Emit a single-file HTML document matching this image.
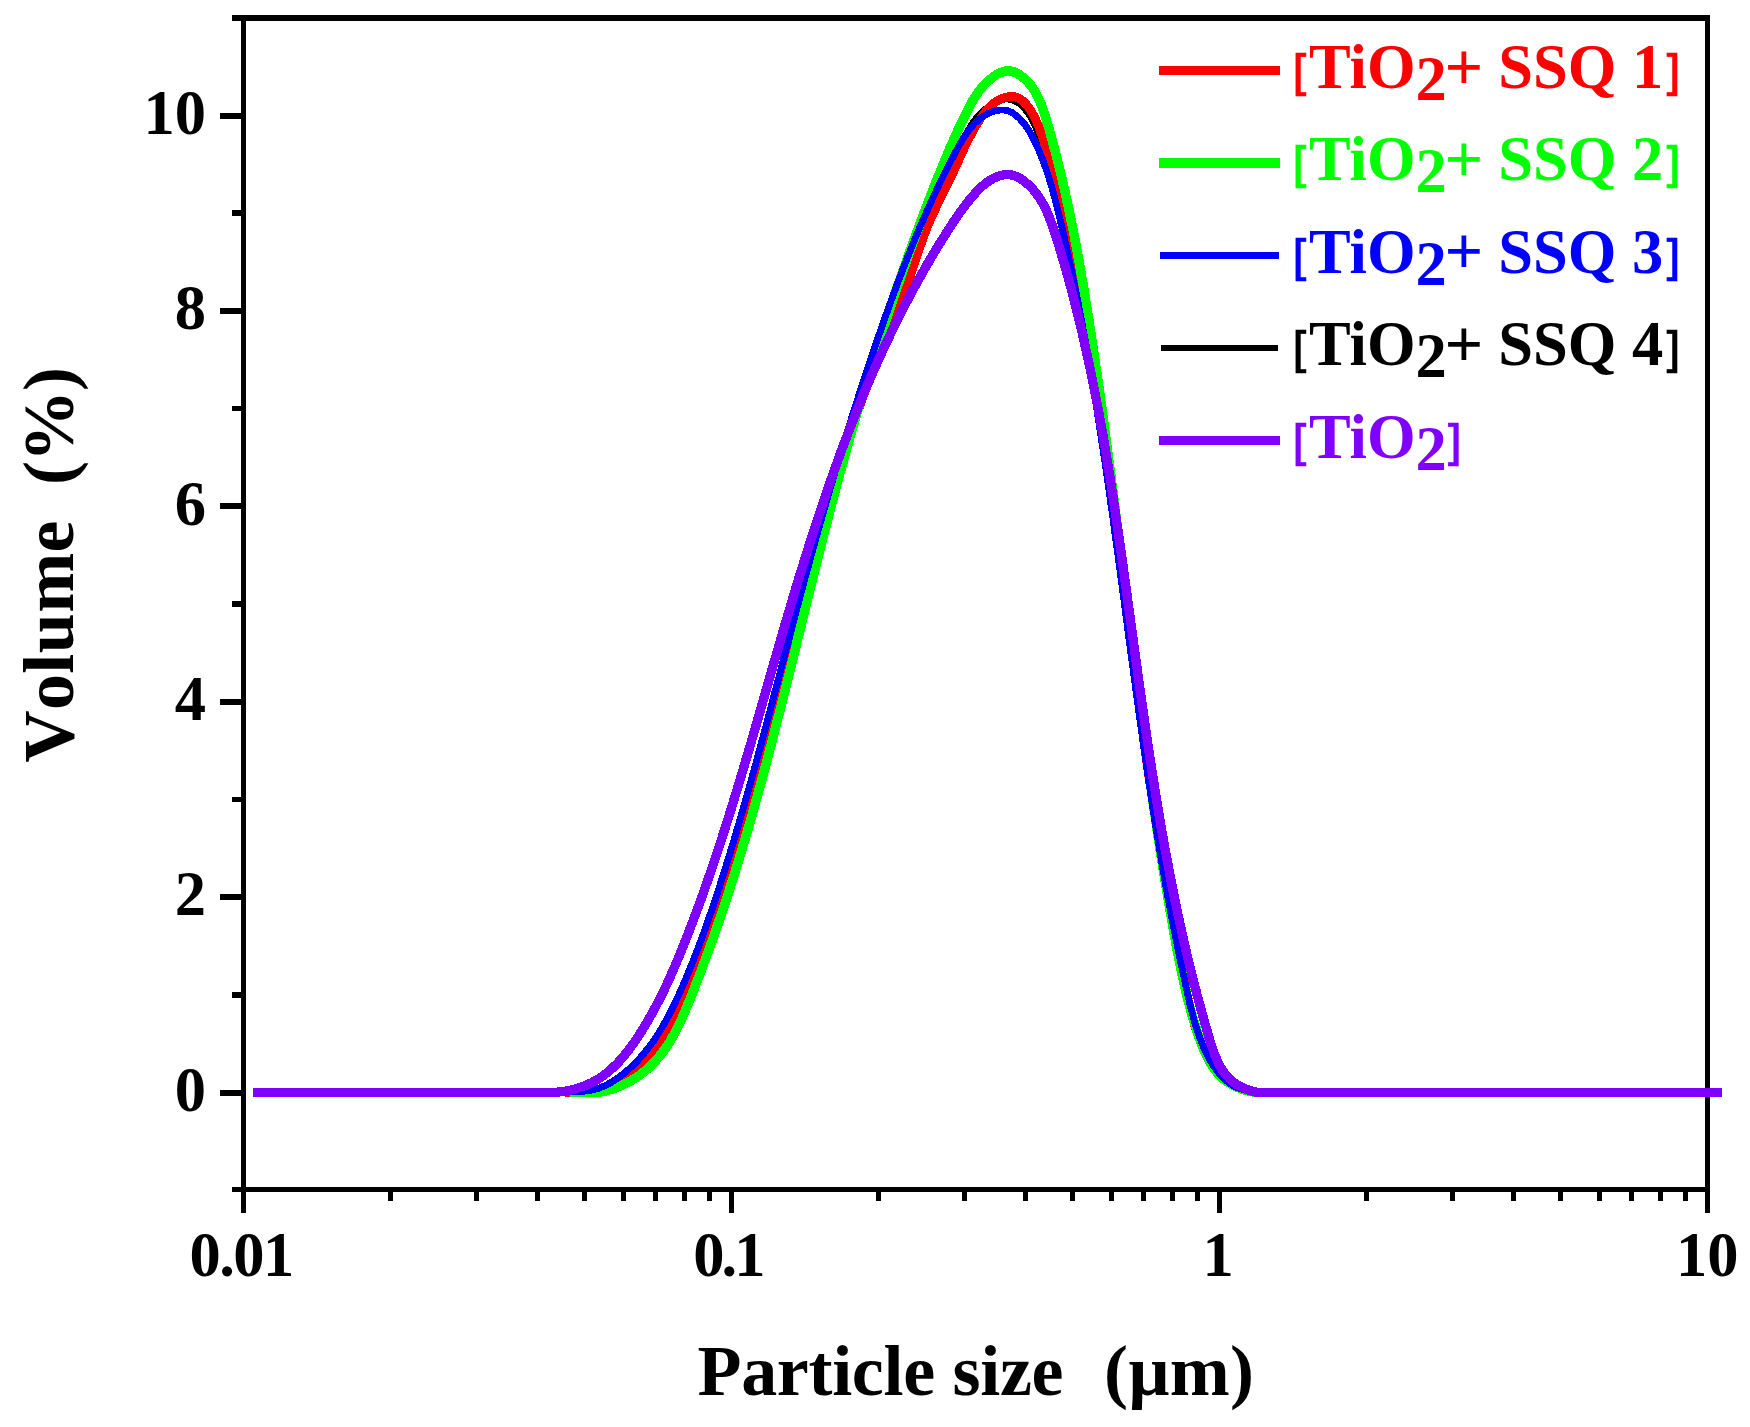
<!DOCTYPE html>
<html lang="en"><head><meta charset="utf-8"><title>Particle size distribution</title>
<style>html,body{margin:0;padding:0;background:#fff}svg{display:block}</style></head>
<body>
<svg width="1750" height="1427" viewBox="0 0 1750 1427">
<rect width="1750" height="1427" fill="#fff"/>
<g fill="#000" shape-rendering="crispEdges">
<rect x="232" y="15" width="1478" height="6"/>
<rect x="232" y="1187" width="1478" height="5"/>
<rect x="241" y="15" width="5" height="1198"/>
<rect x="1705" y="15" width="5" height="1198"/>
<rect x="220" y="1089.5" width="22" height="6"/>
<rect x="232" y="992.0" width="10" height="5.5"/>
<rect x="220" y="894.1" width="22" height="6"/>
<rect x="232" y="796.6" width="10" height="5.5"/>
<rect x="220" y="698.7" width="22" height="6"/>
<rect x="232" y="601.2" width="10" height="5.5"/>
<rect x="220" y="503.3" width="22" height="6"/>
<rect x="232" y="405.9" width="10" height="5.5"/>
<rect x="220" y="307.9" width="22" height="6"/>
<rect x="232" y="210.4" width="10" height="5.5"/>
<rect x="220" y="112.5" width="22" height="6"/>
<rect x="387.9" y="1190" width="5" height="11"/>
<rect x="473.8" y="1190" width="5" height="11"/>
<rect x="534.8" y="1190" width="5" height="11"/>
<rect x="582.1" y="1190" width="5" height="11"/>
<rect x="620.7" y="1190" width="5" height="11"/>
<rect x="653.4" y="1190" width="5" height="11"/>
<rect x="681.7" y="1190" width="5" height="11"/>
<rect x="706.7" y="1190" width="5" height="11"/>
<rect x="729.0" y="1190" width="5" height="23"/>
<rect x="875.9" y="1190" width="5" height="11"/>
<rect x="961.8" y="1190" width="5" height="11"/>
<rect x="1022.8" y="1190" width="5" height="11"/>
<rect x="1070.1" y="1190" width="5" height="11"/>
<rect x="1108.7" y="1190" width="5" height="11"/>
<rect x="1141.4" y="1190" width="5" height="11"/>
<rect x="1169.7" y="1190" width="5" height="11"/>
<rect x="1194.7" y="1190" width="5" height="11"/>
<rect x="1217.0" y="1190" width="5" height="23"/>
<rect x="1363.9" y="1190" width="5" height="11"/>
<rect x="1449.8" y="1190" width="5" height="11"/>
<rect x="1510.8" y="1190" width="5" height="11"/>
<rect x="1558.1" y="1190" width="5" height="11"/>
<rect x="1596.7" y="1190" width="5" height="11"/>
<rect x="1629.4" y="1190" width="5" height="11"/>
<rect x="1657.7" y="1190" width="5" height="11"/>
<rect x="1682.7" y="1190" width="5" height="11"/>
</g>
<g fill="none" stroke-linejoin="round" stroke-linecap="butt" shape-rendering="crispEdges">
<path stroke="#000000" stroke-width="6" d="M560.0 1092.7L564.4 1092.5L568.8 1092.3L573.2 1092.2L577.7 1092.1L582.1 1091.9L586.5 1091.5L590.9 1091.0L595.2 1090.2L599.5 1089.1L603.6 1087.7L607.7 1086.0L611.7 1084.1L615.7 1082.0L619.5 1079.7L623.2 1077.2L626.8 1074.5L630.2 1071.7L633.6 1068.9L636.8 1065.9L639.9 1062.8L642.8 1059.6L645.7 1056.3L648.5 1052.9L651.2 1049.5L653.7 1046.0L656.2 1042.4L658.7 1038.7L661.0 1035.0L663.2 1031.2L665.4 1027.3L667.6 1023.4L669.6 1019.5L671.6 1015.5L673.6 1011.5L675.5 1007.5L677.4 1003.4L679.2 999.3L681.0 995.2L682.8 991.1L684.5 987.0L686.2 982.8L687.9 978.7L689.6 974.6L691.3 970.5L693.0 966.4L694.7 962.3L696.3 958.2L698.0 954.0L699.6 949.9L701.2 945.8L702.8 941.7L704.4 937.6L705.9 933.4L707.4 929.3L709.0 925.2L710.5 921.0L712.0 916.8L713.4 912.7L714.9 908.5L716.3 904.4L717.8 900.2L719.2 896.0L720.6 891.8L722.0 887.6L723.4 883.5L724.7 879.3L726.1 875.1L727.4 870.9L728.7 866.7L730.0 862.4L731.3 858.2L732.6 854.0L733.9 849.8L735.2 845.6L736.4 841.3L737.7 837.1L738.9 832.9L740.2 828.6L741.4 824.4L742.6 820.2L743.8 815.9L745.0 811.7L746.2 807.4L747.4 803.2L748.5 798.9L749.7 794.7L750.9 790.4L752.0 786.1L753.2 781.9L754.3 777.6L755.4 773.3L756.6 769.1L757.7 764.8L758.8 760.5L759.9 756.2L761.0 752.0L762.1 747.7L763.2 743.4L764.3 739.1L765.4 734.9L766.5 730.6L767.6 726.3L768.7 722.0L769.8 717.7L770.9 713.4L772.0 709.2L773.1 704.9L774.1 700.6L775.2 696.3L776.3 692.0L777.4 687.7L778.5 683.4L779.6 679.2L780.6 674.9L781.7 670.6L782.8 666.3L783.9 662.0L785.0 657.7L786.1 653.4L787.2 649.2L788.3 644.9L789.4 640.6L790.5 636.3L791.6 632.1L792.7 627.8L793.9 623.5L795.0 619.2L796.1 615.0L797.3 610.7L798.4 606.4L799.5 602.1L800.7 597.9L801.9 593.6L803.0 589.3L804.2 585.1L805.3 580.8L806.5 576.6L807.7 572.3L808.9 568.0L810.1 563.8L811.3 559.5L812.5 555.3L813.7 551.0L814.9 546.8L816.1 542.5L817.3 538.3L818.5 534.0L819.7 529.8L821.0 525.6L822.2 521.3L823.4 517.1L824.7 512.8L825.9 508.6L827.2 504.4L828.4 500.1L829.7 495.9L831.0 491.7L832.2 487.4L833.5 483.2L834.8 479.0L836.1 474.8L837.4 470.5L838.7 466.3L840.0 462.1L841.3 457.9L842.6 453.6L843.9 449.4L845.2 445.2L846.5 441.0L847.9 436.8L849.2 432.6L850.5 428.4L851.9 424.2L853.2 420.0L854.6 415.7L855.9 411.5L857.3 407.3L858.6 403.1L860.0 398.9L861.4 394.7L862.8 390.5L864.1 386.3L865.5 382.2L866.9 378.0L868.3 373.8L869.7 369.6L871.1 365.4L872.5 361.2L874.0 357.0L875.4 352.9L876.8 348.7L878.2 344.5L879.7 340.3L881.1 336.2L882.6 332.0L884.1 327.8L885.5 323.7L887.0 319.5L888.5 315.3L890.0 311.2L891.5 307.0L893.0 302.9L894.5 298.7L896.0 294.6L897.6 290.5L899.1 286.3L900.7 282.2L902.2 278.1L903.8 274.0L905.4 269.8L907.0 265.7L908.6 261.6L910.2 257.5L911.8 253.4L913.5 249.3L915.1 245.2L916.8 241.1L918.4 237.0L920.1 233.0L921.8 228.9L923.5 224.8L925.2 220.8L926.9 216.7L928.6 212.6L930.4 208.6L932.2 204.5L933.9 200.5L935.7 196.5L937.5 192.5L939.3 188.4L941.2 184.4L943.0 180.4L944.8 176.4L946.7 172.4L948.6 168.4L950.5 164.4L952.4 160.5L954.3 156.5L956.3 152.5L958.2 148.6L960.2 144.6L962.2 140.7L964.2 136.8L966.3 132.9L968.5 129.1L970.8 125.3L973.2 121.7L975.9 118.2L978.7 114.8L981.9 111.7L985.3 108.7L989.0 105.9L992.9 103.5L997.0 101.5L1001.2 100.1L1005.4 99.4L1009.6 99.6L1013.5 100.7L1017.3 102.6L1020.8 105.2L1024.0 108.4L1026.9 111.9L1029.5 115.6L1031.7 119.5L1033.6 123.5L1035.4 127.6L1036.9 131.9L1038.4 136.1L1039.8 140.4L1041.2 144.7L1042.5 148.9L1043.8 153.2L1045.2 157.4L1046.4 161.6L1047.7 165.9L1049.0 170.1L1050.2 174.3L1051.4 178.6L1052.6 182.8L1053.8 187.0L1055.0 191.3L1056.1 195.5L1057.3 199.8L1058.4 204.0L1059.5 208.3L1060.6 212.5L1061.7 216.8L1062.8 221.0L1063.8 225.3L1064.9 229.6L1065.9 233.8L1066.9 238.1L1067.9 242.4L1068.9 246.7L1069.9 251.0L1070.8 255.3L1071.8 259.6L1072.7 263.8L1073.7 268.1L1074.6 272.5L1075.5 276.8L1076.4 281.1L1077.3 285.4L1078.1 289.7L1079.0 294.0L1079.8 298.3L1080.7 302.6L1081.5 307.0L1082.3 311.3L1083.1 315.6L1084.0 320.0L1084.7 324.3L1085.5 328.6L1086.3 333.0L1087.1 337.3L1087.8 341.7L1088.6 346.0L1089.3 350.3L1090.0 354.7L1090.8 359.1L1091.5 363.4L1092.2 367.8L1092.9 372.1L1093.6 376.5L1094.3 380.8L1095.0 385.2L1095.7 389.6L1096.3 393.9L1097.0 398.3L1097.6 402.7L1098.3 407.0L1098.9 411.4L1099.6 415.8L1100.2 420.2L1100.9 424.5L1101.5 428.9L1102.1 433.3L1102.7 437.7L1103.3 442.1L1104.0 446.5L1104.6 450.8L1105.2 455.2L1105.8 459.6L1106.4 464.0L1107.0 468.4L1107.5 472.8L1108.1 477.2L1108.7 481.5L1109.3 485.9L1109.9 490.3L1110.5 494.7L1111.0 499.1L1111.6 503.5L1112.2 507.9L1112.8 512.3L1113.3 516.7L1113.9 521.1L1114.5 525.5L1115.1 529.9L1115.6 534.3L1116.2 538.7L1116.8 543.0L1117.4 547.4L1117.9 551.8L1118.5 556.2L1119.1 560.6L1119.7 565.0L1120.2 569.4L1120.8 573.8L1121.4 578.2L1122.0 582.6L1122.6 587.0L1123.2 591.4L1123.8 595.8L1124.4 600.1L1124.9 604.5L1125.5 608.9L1126.1 613.3L1126.7 617.7L1127.3 622.1L1127.9 626.5L1128.5 630.9L1129.1 635.2L1129.7 639.6L1130.4 644.0L1131.0 648.4L1131.6 652.8L1132.2 657.2L1132.8 661.6L1133.4 665.9L1134.0 670.3L1134.6 674.7L1135.3 679.1L1135.9 683.5L1136.5 687.8L1137.1 692.2L1137.7 696.6L1138.4 701.0L1139.0 705.3L1139.6 709.7L1140.2 714.1L1140.9 718.5L1141.5 722.8L1142.1 727.2L1142.8 731.6L1143.4 736.0L1144.0 740.3L1144.7 744.7L1145.3 749.1L1145.9 753.4L1146.6 757.8L1147.2 762.2L1147.8 766.5L1148.5 770.9L1149.1 775.3L1149.8 779.6L1150.4 784.0L1151.0 788.4L1151.7 792.7L1152.3 797.1L1153.0 801.4L1153.6 805.8L1154.3 810.2L1154.9 814.5L1155.6 818.9L1156.2 823.2L1156.9 827.6L1157.5 831.9L1158.2 836.3L1158.8 840.6L1159.5 845.0L1160.1 849.3L1160.8 853.7L1161.4 858.0L1162.1 862.4L1162.7 866.7L1163.4 871.1L1164.0 875.4L1164.7 879.8L1165.3 884.1L1166.0 888.4L1166.6 892.8L1167.3 897.1L1168.0 901.4L1168.6 905.8L1169.3 910.1L1170.0 914.4L1170.7 918.8L1171.4 923.1L1172.1 927.4L1172.9 931.8L1173.6 936.1L1174.4 940.4L1175.2 944.7L1176.0 949.1L1176.9 953.4L1177.7 957.7L1178.6 962.0L1179.5 966.3L1180.5 970.6L1181.5 974.9L1182.5 979.2L1183.5 983.5L1184.6 987.8L1185.7 992.1L1186.8 996.4L1188.0 1000.7L1189.2 1005.0L1190.5 1009.3L1191.8 1013.6L1193.1 1017.9L1194.5 1022.2L1196.0 1026.4L1197.4 1030.7L1199.0 1035.0L1200.6 1039.2L1202.2 1043.5L1204.0 1047.7L1205.8 1051.9L1207.7 1055.9L1209.8 1059.9L1211.9 1063.7L1214.3 1067.4L1216.8 1070.9L1219.5 1074.2L1222.4 1077.3L1225.5 1080.1L1228.9 1082.7L1232.5 1085.0L1236.3 1087.0L1240.5 1088.6L1244.8 1090.0L1249.4 1091.0L1254.0 1091.8L1258.6 1092.4L1263.2 1092.7L1267.7 1092.7L1272.0 1092.7L1276.0 1092.7"/>
<path stroke="#ff0000" stroke-width="8.8" d="M565.0 1092.7L569.4 1092.5L573.9 1092.4L578.3 1092.3L582.7 1092.2L587.1 1092.0L591.5 1091.6L595.9 1091.0L600.2 1090.1L604.4 1089.0L608.6 1087.5L612.7 1085.8L616.7 1083.8L620.7 1081.6L624.5 1079.2L628.2 1076.7L631.8 1074.0L635.2 1071.2L638.5 1068.3L641.7 1065.3L644.8 1062.2L647.7 1059.0L650.6 1055.7L653.3 1052.3L656.0 1048.9L658.5 1045.3L661.0 1041.7L663.4 1038.0L665.7 1034.3L667.9 1030.4L670.0 1026.6L672.1 1022.7L674.1 1018.7L676.1 1014.7L678.0 1010.6L679.8 1006.6L681.7 1002.5L683.4 998.3L685.2 994.2L686.9 990.0L688.6 985.9L690.2 981.7L691.9 977.5L693.5 973.4L695.1 969.2L696.8 965.0L698.3 960.9L699.9 956.7L701.5 952.5L703.0 948.3L704.6 944.2L706.1 940.0L707.6 935.8L709.1 931.7L710.6 927.5L712.1 923.3L713.5 919.1L715.0 915.0L716.4 910.8L717.9 906.6L719.3 902.4L720.7 898.2L722.1 894.1L723.4 889.9L724.8 885.7L726.2 881.5L727.5 877.3L728.9 873.1L730.2 868.9L731.5 864.7L732.8 860.5L734.1 856.3L735.4 852.0L736.7 847.8L738.0 843.6L739.2 839.4L740.5 835.1L741.7 830.9L743.0 826.7L744.2 822.4L745.4 818.2L746.6 813.9L747.8 809.7L749.0 805.4L750.2 801.2L751.4 796.9L752.6 792.7L753.8 788.4L755.0 784.2L756.1 779.9L757.3 775.6L758.4 771.4L759.6 767.1L760.7 762.8L761.9 758.6L763.0 754.3L764.1 750.0L765.2 745.7L766.4 741.5L767.5 737.2L768.6 732.9L769.7 728.6L770.8 724.3L771.9 720.0L773.0 715.8L774.1 711.5L775.2 707.2L776.3 702.9L777.4 698.6L778.5 694.3L779.6 690.0L780.7 685.7L781.7 681.4L782.8 677.2L783.9 672.9L785.0 668.6L786.1 664.3L787.2 660.0L788.3 655.7L789.3 651.4L790.4 647.1L791.5 642.8L792.6 638.5L793.7 634.2L794.8 629.9L795.9 625.7L797.0 621.4L798.1 617.1L799.2 612.8L800.3 608.5L801.4 604.2L802.5 599.9L803.6 595.6L804.7 591.3L805.8 587.1L806.9 582.8L808.1 578.5L809.2 574.2L810.3 569.9L811.5 565.7L812.6 561.4L813.8 557.1L814.9 552.8L816.1 548.6L817.2 544.3L818.4 540.0L819.6 535.8L820.8 531.5L822.0 527.2L823.1 523.0L824.3 518.7L825.6 514.5L826.8 510.2L828.0 506.0L829.2 501.7L830.5 497.5L831.7 493.2L833.0 489.0L834.2 484.8L835.5 480.5L836.8 476.3L838.1 472.1L839.4 467.8L840.7 463.6L842.0 459.4L843.3 455.2L844.7 451.0L846.0 446.8L847.4 442.6L848.8 438.4L850.2 434.2L851.5 430.0L853.0 425.8L854.4 421.6L855.8 417.4L857.2 413.2L858.7 409.0L860.2 404.9L861.6 400.7L863.1 396.5L864.6 392.4L866.2 388.2L867.7 384.1L869.2 379.9L870.8 375.8L872.4 371.7L874.0 367.5L875.6 363.4L877.2 359.3L878.8 355.2L880.5 351.0L882.1 346.9L883.8 342.8L885.5 338.7L887.2 334.7L888.9 330.6L890.6 326.5L892.3 322.4L894.0 318.3L895.7 314.2L897.4 310.1L899.1 306.0L900.7 301.9L902.3 297.8L903.9 293.7L905.5 289.6L907.0 285.5L908.5 281.3L909.9 277.2L911.3 273.1L912.7 268.9L914.1 264.7L915.5 260.6L916.8 256.4L918.2 252.3L919.6 248.1L921.1 243.9L922.5 239.8L924.1 235.6L925.6 231.5L927.2 227.3L928.9 223.2L930.7 219.1L932.6 215.0L934.5 210.9L936.4 206.8L938.4 202.7L940.4 198.7L942.4 194.6L944.4 190.6L946.4 186.6L948.3 182.7L950.2 178.7L952.1 174.8L953.9 170.9L955.7 167.0L957.4 163.1L959.2 159.2L960.9 155.4L962.7 151.5L964.5 147.7L966.4 143.8L968.3 139.9L970.3 136.1L972.4 132.2L974.5 128.3L976.8 124.4L979.2 120.5L981.8 116.6L984.5 112.9L987.4 109.3L990.6 106.0L994.0 103.1L997.7 100.6L1001.6 98.6L1005.8 97.2L1010.0 96.5L1014.2 96.7L1018.1 97.8L1021.7 99.9L1025.0 102.9L1028.0 106.4L1030.6 110.2L1032.9 114.2L1035.1 118.2L1036.9 122.4L1038.7 126.5L1040.2 130.8L1041.7 135.0L1043.1 139.2L1044.4 143.4L1045.7 147.6L1047.0 151.8L1048.2 156.0L1049.4 160.2L1050.6 164.4L1051.8 168.6L1052.9 172.8L1054.1 177.0L1055.2 181.2L1056.3 185.4L1057.4 189.6L1058.5 193.9L1059.6 198.1L1060.7 202.4L1061.7 206.6L1062.8 210.9L1063.8 215.1L1064.8 219.4L1065.8 223.7L1066.8 227.9L1067.8 232.2L1068.8 236.5L1069.8 240.8L1070.7 245.1L1071.7 249.4L1072.6 253.6L1073.5 258.0L1074.4 262.3L1075.3 266.6L1076.2 270.9L1077.1 275.2L1077.9 279.5L1078.8 283.8L1079.6 288.2L1080.5 292.5L1081.3 296.8L1082.1 301.2L1083.0 305.5L1083.8 309.9L1084.5 314.2L1085.3 318.6L1086.1 322.9L1086.9 327.3L1087.6 331.6L1088.4 336.0L1089.1 340.4L1089.9 344.7L1090.6 349.1L1091.3 353.5L1092.1 357.8L1092.8 362.2L1093.5 366.6L1094.2 371.0L1094.9 375.3L1095.5 379.7L1096.2 384.1L1096.9 388.5L1097.6 392.9L1098.2 397.3L1098.9 401.7L1099.5 406.0L1100.2 410.4L1100.8 414.8L1101.5 419.2L1102.1 423.6L1102.7 428.0L1103.3 432.4L1104.0 436.8L1104.6 441.2L1105.2 445.6L1105.8 450.0L1106.4 454.4L1107.0 458.8L1107.6 463.2L1108.2 467.6L1108.8 472.0L1109.4 476.4L1110.0 480.8L1110.6 485.2L1111.1 489.6L1111.7 494.0L1112.3 498.4L1112.9 502.8L1113.5 507.2L1114.0 511.6L1114.6 516.0L1115.2 520.4L1115.7 524.8L1116.3 529.2L1116.9 533.6L1117.4 537.9L1118.0 542.3L1118.6 546.7L1119.1 551.1L1119.7 555.5L1120.2 559.9L1120.8 564.3L1121.4 568.7L1121.9 573.1L1122.5 577.5L1123.0 581.9L1123.6 586.3L1124.2 590.6L1124.7 595.0L1125.3 599.4L1125.8 603.8L1126.4 608.2L1126.9 612.6L1127.5 617.0L1128.1 621.4L1128.6 625.7L1129.2 630.1L1129.7 634.5L1130.3 638.9L1130.9 643.3L1131.4 647.7L1132.0 652.0L1132.6 656.4L1133.1 660.8L1133.7 665.2L1134.3 669.6L1134.8 674.0L1135.4 678.3L1136.0 682.7L1136.6 687.1L1137.2 691.5L1137.7 695.9L1138.3 700.2L1138.9 704.6L1139.5 709.0L1140.1 713.4L1140.7 717.7L1141.3 722.1L1141.9 726.5L1142.5 730.9L1143.1 735.2L1143.7 739.6L1144.3 744.0L1144.9 748.4L1145.5 752.7L1146.1 757.1L1146.7 761.5L1147.4 765.9L1148.0 770.2L1148.6 774.6L1149.3 779.0L1149.9 783.3L1150.6 787.7L1151.2 792.1L1151.9 796.4L1152.5 800.8L1153.2 805.2L1153.8 809.6L1154.5 813.9L1155.2 818.3L1155.8 822.6L1156.5 827.0L1157.2 831.4L1157.9 835.7L1158.6 840.1L1159.3 844.5L1160.0 848.8L1160.7 853.2L1161.4 857.6L1162.2 861.9L1162.9 866.3L1163.6 870.6L1164.4 875.0L1165.1 879.4L1165.9 883.7L1166.6 888.1L1167.4 892.4L1168.1 896.8L1168.9 901.1L1169.7 905.5L1170.5 909.9L1171.3 914.2L1172.1 918.6L1172.9 922.9L1173.7 927.3L1174.5 931.6L1175.4 936.0L1176.2 940.3L1177.0 944.7L1177.9 949.0L1178.7 953.4L1179.6 957.7L1180.5 962.1L1181.3 966.4L1182.2 970.8L1183.1 975.1L1184.0 979.5L1184.9 983.8L1185.8 988.2L1186.8 992.5L1187.7 996.9L1188.6 1001.2L1189.6 1005.5L1190.6 1009.9L1191.7 1014.2L1192.8 1018.5L1194.0 1022.7L1195.2 1027.0L1196.6 1031.2L1198.0 1035.4L1199.5 1039.5L1201.2 1043.6L1202.9 1047.6L1204.8 1051.6L1206.8 1055.6L1209.0 1059.5L1211.4 1063.3L1213.9 1067.0L1216.6 1070.6L1219.4 1074.0L1222.5 1077.2L1225.7 1080.2L1229.2 1082.9L1232.8 1085.2L1236.7 1087.3L1240.7 1088.9L1245.0 1090.2L1249.4 1091.1L1253.9 1091.8L1258.4 1092.2L1262.9 1092.5L1267.4 1092.6L1271.8 1092.7L1276.0 1092.7"/>
<path stroke="#00ff00" stroke-width="9.5" d="M570.0 1092.7L574.5 1092.7L579.0 1092.7L583.5 1092.7L588.1 1092.7L592.6 1092.7L597.1 1092.7L601.6 1091.8L606.0 1090.8L610.4 1089.6L614.8 1088.1L619.0 1086.5L623.2 1084.6L627.3 1082.6L631.3 1080.5L635.2 1078.1L639.0 1075.6L642.6 1072.9L646.1 1070.1L649.4 1067.2L652.6 1064.1L655.6 1060.9L658.5 1057.5L661.3 1054.1L663.9 1050.5L666.5 1046.9L668.9 1043.2L671.2 1039.4L673.4 1035.5L675.5 1031.5L677.6 1027.5L679.5 1023.4L681.5 1019.3L683.3 1015.1L685.1 1010.9L686.9 1006.7L688.6 1002.5L690.4 998.2L692.1 994.0L693.8 989.7L695.4 985.5L697.1 981.2L698.7 976.9L700.4 972.7L702.0 968.4L703.6 964.1L705.2 959.8L706.8 955.6L708.3 951.3L709.9 947.0L711.4 942.7L713.0 938.4L714.5 934.1L716.0 929.8L717.5 925.5L718.9 921.3L720.4 917.0L721.9 912.6L723.3 908.3L724.7 904.0L726.2 899.7L727.6 895.4L729.0 891.1L730.4 886.8L731.7 882.5L733.1 878.2L734.5 873.8L735.8 869.5L737.2 865.2L738.5 860.9L739.8 856.5L741.1 852.2L742.4 847.9L743.7 843.5L745.0 839.2L746.3 834.8L747.6 830.5L748.8 826.2L750.1 821.8L751.3 817.5L752.6 813.1L753.8 808.8L755.0 804.4L756.2 800.1L757.4 795.7L758.6 791.4L759.8 787.0L761.0 782.7L762.2 778.3L763.4 773.9L764.6 769.6L765.7 765.2L766.9 760.9L768.0 756.5L769.2 752.1L770.3 747.8L771.5 743.4L772.6 739.0L773.8 734.7L774.9 730.3L776.0 725.9L777.1 721.5L778.2 717.2L779.4 712.8L780.5 708.4L781.6 704.0L782.7 699.7L783.8 695.3L784.9 690.9L786.0 686.5L787.1 682.2L788.2 677.8L789.3 673.4L790.3 669.0L791.4 664.6L792.5 660.3L793.6 655.9L794.7 651.5L795.8 647.1L796.8 642.7L797.9 638.3L799.0 634.0L800.1 629.6L801.2 625.2L802.2 620.8L803.3 616.4L804.4 612.0L805.5 607.6L806.6 603.3L807.6 598.9L808.7 594.5L809.8 590.1L810.9 585.7L812.0 581.3L813.1 577.0L814.2 572.6L815.3 568.2L816.4 563.8L817.5 559.4L818.6 555.0L819.7 550.7L820.8 546.3L821.9 541.9L823.0 537.5L824.1 533.1L825.3 528.8L826.4 524.4L827.5 520.0L828.7 515.6L829.8 511.2L830.9 506.9L832.1 502.5L833.2 498.1L834.4 493.7L835.6 489.4L836.7 485.0L837.9 480.6L839.1 476.3L840.3 471.9L841.5 467.5L842.7 463.1L843.9 458.8L845.1 454.4L846.3 450.0L847.6 445.7L848.8 441.3L850.0 437.0L851.3 432.6L852.5 428.2L853.8 423.9L855.1 419.5L856.3 415.2L857.6 410.8L858.9 406.5L860.2 402.1L861.5 397.8L862.8 393.4L864.1 389.1L865.5 384.7L866.8 380.4L868.1 376.1L869.5 371.7L870.8 367.4L872.2 363.1L873.6 358.7L874.9 354.4L876.3 350.1L877.7 345.8L879.1 341.4L880.5 337.1L881.9 332.8L883.3 328.5L884.7 324.2L886.1 319.9L887.6 315.6L889.0 311.3L890.5 307.0L891.9 302.7L893.4 298.4L894.8 294.1L896.3 289.8L897.8 285.6L899.3 281.3L900.8 277.0L902.3 272.7L903.8 268.5L905.3 264.2L906.8 259.9L908.3 255.7L909.8 251.4L911.4 247.2L912.9 242.9L914.5 238.7L916.0 234.5L917.6 230.2L919.2 226.0L920.7 221.8L922.3 217.5L923.9 213.3L925.5 209.1L927.1 204.9L928.7 200.7L930.3 196.5L932.0 192.3L933.6 188.1L935.2 183.9L936.9 179.7L938.6 175.6L940.3 171.4L942.0 167.2L943.7 163.1L945.4 158.9L947.2 154.7L948.9 150.6L950.7 146.4L952.5 142.3L954.4 138.2L956.2 134.0L958.1 129.9L960.0 125.8L962.0 121.7L963.9 117.5L965.9 113.4L968.0 109.4L970.1 105.3L972.3 101.3L974.7 97.5L977.2 93.7L979.9 90.0L982.8 86.5L986.0 83.2L989.3 80.0L993.0 77.0L996.9 74.4L1001.0 72.4L1005.2 71.1L1009.4 70.9L1013.6 71.8L1017.6 73.6L1021.4 76.1L1024.9 79.0L1028.1 82.3L1031.0 85.7L1033.6 89.4L1035.9 93.2L1038.0 97.2L1039.9 101.3L1041.6 105.5L1043.1 109.8L1044.6 114.2L1046.0 118.6L1047.3 123.0L1048.6 127.4L1049.8 131.8L1051.1 136.3L1052.3 140.7L1053.5 145.1L1054.7 149.5L1055.8 154.0L1057.0 158.4L1058.1 162.8L1059.2 167.2L1060.3 171.6L1061.4 176.1L1062.4 180.5L1063.4 184.9L1064.5 189.3L1065.5 193.7L1066.4 198.2L1067.4 202.6L1068.4 207.0L1069.3 211.4L1070.2 215.8L1071.1 220.3L1072.0 224.7L1072.9 229.1L1073.8 233.5L1074.7 238.0L1075.5 242.4L1076.3 246.8L1077.2 251.2L1078.0 255.7L1078.8 260.1L1079.6 264.5L1080.4 268.9L1081.1 273.4L1081.9 277.8L1082.7 282.2L1083.4 286.7L1084.2 291.1L1084.9 295.6L1085.6 300.0L1086.3 304.4L1087.1 308.9L1087.8 313.3L1088.5 317.8L1089.2 322.2L1089.9 326.7L1090.6 331.1L1091.2 335.6L1091.9 340.0L1092.6 344.5L1093.3 348.9L1093.9 353.4L1094.6 357.9L1095.3 362.3L1095.9 366.8L1096.6 371.3L1097.2 375.7L1097.9 380.2L1098.5 384.7L1099.1 389.1L1099.8 393.6L1100.4 398.1L1101.0 402.6L1101.7 407.0L1102.3 411.5L1102.9 416.0L1103.5 420.5L1104.1 425.0L1104.7 429.5L1105.3 433.9L1105.9 438.4L1106.5 442.9L1107.1 447.4L1107.7 451.9L1108.3 456.4L1108.9 460.9L1109.5 465.4L1110.1 469.9L1110.7 474.4L1111.3 478.9L1111.8 483.3L1112.4 487.8L1113.0 492.3L1113.6 496.8L1114.2 501.3L1114.7 505.8L1115.3 510.3L1115.9 514.8L1116.4 519.3L1117.0 523.8L1117.6 528.3L1118.1 532.8L1118.7 537.3L1119.3 541.9L1119.8 546.4L1120.4 550.9L1120.9 555.4L1121.5 559.9L1122.1 564.4L1122.6 568.9L1123.2 573.4L1123.7 577.9L1124.3 582.4L1124.9 586.9L1125.4 591.4L1126.0 595.9L1126.5 600.4L1127.1 604.9L1127.7 609.4L1128.2 613.9L1128.8 618.4L1129.3 622.9L1129.9 627.4L1130.5 632.0L1131.0 636.5L1131.6 641.0L1132.2 645.5L1132.7 650.0L1133.3 654.5L1133.9 659.0L1134.4 663.5L1135.0 668.0L1135.6 672.5L1136.1 677.0L1136.7 681.5L1137.3 686.0L1137.9 690.5L1138.5 695.0L1139.0 699.5L1139.6 704.0L1140.2 708.5L1140.8 713.0L1141.4 717.4L1142.0 721.9L1142.6 726.4L1143.2 730.9L1143.8 735.4L1144.4 739.9L1145.0 744.4L1145.6 748.9L1146.2 753.4L1146.8 757.9L1147.4 762.3L1148.0 766.8L1148.7 771.3L1149.3 775.8L1149.9 780.3L1150.6 784.7L1151.2 789.2L1151.8 793.7L1152.5 798.2L1153.1 802.6L1153.8 807.1L1154.4 811.6L1155.1 816.0L1155.7 820.5L1156.4 825.0L1157.1 829.4L1157.8 833.9L1158.4 838.4L1159.1 842.8L1159.8 847.3L1160.5 851.7L1161.2 856.2L1161.9 860.6L1162.6 865.1L1163.3 869.5L1164.0 874.0L1164.8 878.4L1165.5 882.9L1166.2 887.3L1166.9 891.7L1167.7 896.2L1168.4 900.6L1169.2 905.0L1169.9 909.5L1170.7 913.9L1171.5 918.3L1172.3 922.7L1173.0 927.2L1173.8 931.6L1174.6 936.0L1175.4 940.4L1176.2 944.8L1177.0 949.2L1177.9 953.6L1178.7 958.0L1179.6 962.4L1180.5 966.8L1181.4 971.2L1182.3 975.6L1183.3 980.0L1184.2 984.4L1185.3 988.8L1186.3 993.2L1187.4 997.6L1188.5 1002.0L1189.7 1006.5L1190.9 1010.9L1192.1 1015.3L1193.4 1019.7L1194.8 1024.1L1196.2 1028.5L1197.6 1032.9L1199.1 1037.3L1200.7 1041.7L1202.4 1046.1L1204.1 1050.4L1206.0 1054.7L1208.0 1058.8L1210.2 1062.8L1212.6 1066.6L1215.2 1070.2L1218.1 1073.6L1221.1 1076.8L1224.5 1079.7L1228.1 1082.3L1231.9 1084.6L1235.9 1086.6L1240.1 1088.4L1244.4 1089.9L1248.9 1091.1L1253.4 1092.0L1257.9 1092.7L1262.5 1092.7L1267.1 1092.7L1271.6 1092.7L1276.0 1092.7"/>
<path stroke="#0000ff" stroke-width="6.9" d="M555.0 1092.7L559.3 1092.4L563.6 1092.2L568.0 1092.0L572.5 1091.9L576.9 1091.7L581.4 1091.5L585.8 1091.0L590.1 1090.4L594.4 1089.5L598.6 1088.2L602.6 1086.7L606.6 1084.9L610.4 1082.8L614.2 1080.5L617.8 1078.1L621.4 1075.4L624.8 1072.7L628.1 1069.8L631.3 1066.9L634.5 1063.8L637.5 1060.7L640.4 1057.5L643.3 1054.2L646.0 1050.9L648.7 1047.4L651.3 1044.0L653.8 1040.4L656.2 1036.8L658.6 1033.1L660.9 1029.4L663.1 1025.6L665.3 1021.8L667.4 1017.9L669.5 1014.0L671.5 1010.1L673.5 1006.1L675.4 1002.1L677.3 998.1L679.1 994.1L680.9 990.0L682.7 986.0L684.5 981.9L686.2 977.8L687.9 973.7L689.6 969.6L691.2 965.5L692.9 961.4L694.5 957.3L696.1 953.2L697.7 949.1L699.2 945.0L700.8 940.9L702.3 936.8L703.8 932.6L705.3 928.5L706.7 924.4L708.2 920.2L709.6 916.1L711.1 911.9L712.5 907.8L713.9 903.6L715.3 899.5L716.7 895.3L718.0 891.1L719.4 887.0L720.7 882.8L722.0 878.6L723.4 874.5L724.7 870.3L726.0 866.1L727.3 861.9L728.6 857.7L729.9 853.6L731.1 849.4L732.4 845.2L733.7 841.0L734.9 836.8L736.2 832.6L737.4 828.4L738.7 824.2L739.9 820.0L741.1 815.8L742.3 811.6L743.5 807.4L744.7 803.2L745.9 799.0L747.1 794.8L748.3 790.6L749.5 786.3L750.7 782.1L751.9 777.9L753.0 773.7L754.2 769.5L755.4 765.3L756.5 761.0L757.7 756.8L758.8 752.6L760.0 748.4L761.1 744.1L762.2 739.9L763.4 735.7L764.5 731.5L765.7 727.2L766.8 723.0L767.9 718.8L769.0 714.5L770.2 710.3L771.3 706.1L772.4 701.8L773.5 697.6L774.6 693.4L775.7 689.1L776.9 684.9L778.0 680.7L779.1 676.4L780.2 672.2L781.3 667.9L782.4 663.7L783.5 659.5L784.6 655.2L785.7 651.0L786.9 646.7L788.0 642.5L789.1 638.3L790.2 634.0L791.3 629.8L792.4 625.5L793.5 621.3L794.7 617.1L795.8 612.8L796.9 608.6L798.0 604.3L799.2 600.1L800.3 595.9L801.4 591.6L802.5 587.4L803.7 583.1L804.8 578.9L806.0 574.7L807.1 570.4L808.3 566.2L809.4 562.0L810.6 557.7L811.7 553.5L812.9 549.3L814.1 545.0L815.2 540.8L816.4 536.6L817.6 532.3L818.8 528.1L820.0 523.9L821.2 519.7L822.4 515.4L823.6 511.2L824.8 507.0L826.0 502.8L827.3 498.5L828.5 494.3L829.7 490.1L830.9 485.9L832.2 481.7L833.4 477.5L834.7 473.2L835.9 469.0L837.2 464.8L838.5 460.6L839.7 456.4L841.0 452.2L842.3 448.0L843.6 443.8L844.9 439.6L846.2 435.4L847.5 431.2L848.8 427.0L850.1 422.8L851.4 418.7L852.7 414.5L854.1 410.3L855.4 406.1L856.7 401.9L858.1 397.8L859.4 393.6L860.8 389.4L862.1 385.2L863.5 381.1L864.8 376.9L866.2 372.8L867.6 368.6L869.0 364.4L870.4 360.3L871.8 356.1L873.2 352.0L874.6 347.9L876.0 343.7L877.4 339.6L878.8 335.4L880.3 331.3L881.7 327.2L883.1 323.1L884.6 318.9L886.0 314.8L887.5 310.7L889.0 306.6L890.5 302.5L891.9 298.4L893.4 294.3L895.0 290.2L896.5 286.1L898.0 282.0L899.5 277.9L901.1 273.9L902.7 269.8L904.2 265.7L905.8 261.7L907.4 257.6L909.0 253.5L910.7 249.5L912.3 245.4L914.0 241.4L915.6 237.3L917.3 233.3L919.0 229.3L920.7 225.2L922.5 221.2L924.2 217.2L926.0 213.2L927.8 209.2L929.6 205.2L931.4 201.2L933.2 197.2L935.1 193.2L936.9 189.2L938.8 185.2L940.7 181.3L942.7 177.3L944.6 173.3L946.6 169.4L948.6 165.4L950.6 161.5L952.7 157.6L954.7 153.6L956.8 149.7L958.9 145.8L961.1 141.9L963.4 138.2L965.8 134.5L968.3 130.9L970.9 127.5L973.8 124.3L976.9 121.3L980.2 118.5L983.7 116.0L987.5 113.8L991.6 112.0L995.7 110.7L1000.0 110.0L1004.2 110.0L1008.3 110.9L1012.2 112.7L1015.9 115.3L1019.4 118.4L1022.5 121.8L1025.4 125.3L1027.9 129.0L1030.2 132.7L1032.3 136.5L1034.3 140.4L1036.2 144.3L1037.9 148.2L1039.6 152.2L1041.3 156.2L1042.9 160.2L1044.4 164.3L1045.8 168.4L1047.2 172.5L1048.6 176.7L1049.9 180.8L1051.1 185.0L1052.3 189.2L1053.5 193.4L1054.7 197.7L1055.8 201.9L1056.8 206.2L1057.9 210.4L1058.9 214.7L1060.0 219.0L1061.0 223.3L1062.0 227.6L1063.0 231.8L1063.9 236.1L1064.9 240.4L1065.9 244.7L1066.8 249.0L1067.8 253.3L1068.7 257.6L1069.6 261.9L1070.6 266.2L1071.5 270.5L1072.4 274.8L1073.3 279.0L1074.1 283.4L1075.0 287.7L1075.9 292.0L1076.8 296.3L1077.6 300.6L1078.5 304.9L1079.3 309.2L1080.1 313.5L1080.9 317.8L1081.8 322.1L1082.6 326.4L1083.4 330.7L1084.2 335.0L1085.0 339.4L1085.7 343.7L1086.5 348.0L1087.3 352.3L1088.0 356.6L1088.8 361.0L1089.6 365.3L1090.3 369.6L1091.0 373.9L1091.8 378.2L1092.5 382.6L1093.2 386.9L1093.9 391.2L1094.6 395.5L1095.3 399.9L1096.0 404.2L1096.7 408.5L1097.4 412.9L1098.1 417.2L1098.8 421.5L1099.5 425.9L1100.1 430.2L1100.8 434.5L1101.5 438.9L1102.1 443.2L1102.8 447.5L1103.4 451.9L1104.1 456.2L1104.7 460.5L1105.4 464.9L1106.0 469.2L1106.6 473.6L1107.2 477.9L1107.9 482.2L1108.5 486.6L1109.1 490.9L1109.7 495.3L1110.3 499.6L1110.9 503.9L1111.6 508.3L1112.2 512.6L1112.8 517.0L1113.4 521.3L1114.0 525.7L1114.5 530.0L1115.1 534.3L1115.7 538.7L1116.3 543.0L1116.9 547.4L1117.5 551.7L1118.1 556.1L1118.7 560.4L1119.2 564.8L1119.8 569.1L1120.4 573.5L1121.0 577.8L1121.6 582.2L1122.1 586.5L1122.7 590.8L1123.3 595.2L1123.9 599.5L1124.4 603.9L1125.0 608.2L1125.6 612.6L1126.1 616.9L1126.7 621.3L1127.3 625.6L1127.9 630.0L1128.4 634.3L1129.0 638.7L1129.6 643.0L1130.2 647.4L1130.7 651.7L1131.3 656.0L1131.9 660.4L1132.5 664.7L1133.1 669.1L1133.6 673.4L1134.2 677.8L1134.8 682.1L1135.4 686.5L1136.0 690.8L1136.6 695.2L1137.2 699.5L1137.8 703.8L1138.3 708.2L1138.9 712.5L1139.5 716.9L1140.1 721.2L1140.8 725.6L1141.4 729.9L1142.0 734.2L1142.6 738.6L1143.2 742.9L1143.8 747.3L1144.4 751.6L1145.1 756.0L1145.7 760.3L1146.3 764.6L1147.0 769.0L1147.6 773.3L1148.2 777.6L1148.9 782.0L1149.5 786.3L1150.2 790.7L1150.9 795.0L1151.5 799.3L1152.2 803.7L1152.9 808.0L1153.5 812.3L1154.2 816.7L1154.9 821.0L1155.6 825.3L1156.3 829.6L1157.0 834.0L1157.7 838.3L1158.4 842.6L1159.1 847.0L1159.9 851.3L1160.6 855.6L1161.3 859.9L1162.1 864.3L1162.8 868.6L1163.6 872.9L1164.3 877.2L1165.1 881.5L1165.9 885.9L1166.7 890.2L1167.4 894.5L1168.2 898.8L1169.0 903.1L1169.8 907.4L1170.7 911.8L1171.5 916.1L1172.3 920.4L1173.1 924.7L1174.0 929.0L1174.8 933.3L1175.7 937.6L1176.5 941.9L1177.4 946.2L1178.3 950.5L1179.2 954.8L1180.1 959.1L1181.0 963.4L1181.9 967.7L1182.8 972.0L1183.8 976.3L1184.7 980.6L1185.6 984.9L1186.6 989.2L1187.6 993.5L1188.5 997.8L1189.5 1002.1L1190.5 1006.4L1191.6 1010.6L1192.7 1014.9L1193.8 1019.1L1195.0 1023.3L1196.3 1027.5L1197.6 1031.7L1199.1 1035.8L1200.6 1039.9L1202.2 1044.0L1203.9 1048.0L1205.8 1052.0L1207.8 1055.9L1209.9 1059.8L1212.1 1063.7L1214.6 1067.4L1217.1 1070.9L1219.9 1074.4L1222.9 1077.5L1226.0 1080.5L1229.4 1083.1L1233.0 1085.5L1236.8 1087.4L1240.9 1089.0L1245.2 1090.2L1249.6 1091.1L1254.1 1091.7L1258.7 1092.1L1263.2 1092.3L1267.6 1092.5L1271.9 1092.6L1276.0 1092.7"/>
<path stroke="#8000ff" stroke-width="9.3" d="M253.0 1092.5L540.0 1092.5L544.1 1092.5L548.2 1092.5L552.4 1092.5L556.6 1092.2L560.7 1091.8L564.9 1091.2L569.0 1090.4L573.0 1089.5L577.0 1088.4L581.0 1087.1L584.9 1085.7L588.7 1084.1L592.4 1082.3L595.9 1080.3L599.4 1078.2L602.8 1075.9L606.1 1073.5L609.2 1070.9L612.3 1068.2L615.3 1065.3L618.2 1062.4L621.0 1059.3L623.7 1056.1L626.3 1052.9L628.9 1049.6L631.4 1046.2L633.9 1042.8L636.3 1039.3L638.6 1035.8L640.9 1032.3L643.1 1028.7L645.3 1025.1L647.4 1021.5L649.5 1017.9L651.5 1014.3L653.5 1010.7L655.5 1007.0L657.4 1003.3L659.3 999.7L661.2 996.0L663.0 992.3L664.8 988.5L666.6 984.8L668.3 981.0L670.0 977.3L671.7 973.5L673.3 969.7L675.0 966.0L676.6 962.2L678.2 958.4L679.7 954.6L681.3 950.7L682.8 946.9L684.4 943.1L685.9 939.3L687.4 935.4L688.9 931.6L690.4 927.8L691.9 923.9L693.3 920.1L694.8 916.2L696.2 912.4L697.6 908.5L699.1 904.6L700.5 900.8L701.9 896.9L703.3 893.0L704.6 889.1L706.0 885.2L707.4 881.4L708.7 877.5L710.1 873.6L711.4 869.7L712.7 865.8L714.1 861.9L715.4 858.0L716.7 854.0L718.0 850.1L719.3 846.2L720.5 842.3L721.8 838.4L723.1 834.4L724.3 830.5L725.6 826.6L726.8 822.6L728.1 818.7L729.3 814.8L730.6 810.8L731.8 806.9L733.0 802.9L734.2 799.0L735.4 795.0L736.6 791.1L737.8 787.1L739.0 783.2L740.2 779.2L741.4 775.2L742.6 771.3L743.8 767.3L744.9 763.3L746.1 759.4L747.3 755.4L748.4 751.4L749.6 747.5L750.8 743.5L751.9 739.5L753.1 735.5L754.2 731.6L755.4 727.6L756.5 723.6L757.7 719.6L758.8 715.6L760.0 711.6L761.1 707.7L762.2 703.7L763.4 699.7L764.5 695.7L765.7 691.7L766.8 687.7L768.0 683.7L769.1 679.7L770.2 675.8L771.4 671.8L772.5 667.8L773.7 663.8L774.8 659.8L776.0 655.8L777.1 651.8L778.3 647.8L779.4 643.8L780.6 639.8L781.8 635.8L782.9 631.9L784.1 627.9L785.2 623.9L786.4 619.9L787.6 615.9L788.8 611.9L790.0 607.9L791.1 603.9L792.3 600.0L793.5 596.0L794.7 592.0L795.9 588.0L797.1 584.0L798.3 580.0L799.5 576.1L800.8 572.1L802.0 568.1L803.2 564.2L804.4 560.2L805.7 556.2L806.9 552.2L808.2 548.3L809.4 544.3L810.7 540.4L812.0 536.4L813.2 532.4L814.5 528.5L815.8 524.5L817.1 520.6L818.4 516.6L819.7 512.7L821.0 508.8L822.3 504.8L823.7 500.9L825.0 497.0L826.3 493.0L827.7 489.1L829.1 485.2L830.4 481.3L831.8 477.4L833.2 473.5L834.6 469.6L836.0 465.7L837.4 461.8L838.8 457.9L840.2 454.0L841.6 450.1L843.1 446.2L844.5 442.3L846.0 438.5L847.5 434.6L849.0 430.7L850.4 426.9L852.0 423.0L853.5 419.2L855.0 415.3L856.5 411.5L858.1 407.7L859.6 403.8L861.2 400.0L862.8 396.2L864.3 392.4L865.9 388.6L867.5 384.8L869.2 381.0L870.8 377.2L872.4 373.4L874.1 369.7L875.8 365.9L877.4 362.1L879.1 358.4L880.8 354.6L882.6 350.9L884.3 347.1L886.0 343.4L887.8 339.7L889.6 336.0L891.3 332.3L893.1 328.6L894.9 324.9L896.8 321.2L898.6 317.5L900.4 313.8L902.3 310.2L904.2 306.5L906.1 302.9L908.0 299.2L909.9 295.6L911.9 292.0L913.8 288.3L915.8 284.7L917.8 281.1L919.8 277.5L921.8 273.9L923.8 270.4L925.8 266.8L927.9 263.2L930.0 259.7L932.1 256.1L934.2 252.6L936.3 249.1L938.4 245.6L940.6 242.1L942.8 238.6L945.0 235.1L947.2 231.6L949.4 228.1L951.7 224.7L953.9 221.2L956.3 217.8L958.6 214.4L961.0 211.0L963.5 207.6L966.0 204.3L968.6 201.0L971.3 197.7L974.1 194.5L976.9 191.4L979.9 188.3L983.0 185.5L986.3 182.8L989.7 180.4L993.3 178.3L997.2 176.6L1001.1 175.3L1005.1 174.6L1009.1 174.5L1013.0 175.3L1016.8 176.6L1020.4 178.5L1023.8 180.9L1027.0 183.5L1030.1 186.3L1032.9 189.3L1035.5 192.4L1037.9 195.7L1040.2 199.1L1042.3 202.6L1044.2 206.1L1046.0 209.8L1047.7 213.6L1049.3 217.4L1050.8 221.3L1052.2 225.2L1053.6 229.2L1054.9 233.2L1056.2 237.2L1057.4 241.2L1058.7 245.3L1059.9 249.3L1061.1 253.3L1062.3 257.4L1063.5 261.4L1064.7 265.4L1065.8 269.4L1066.9 273.5L1068.1 277.5L1069.2 281.5L1070.3 285.6L1071.4 289.6L1072.4 293.7L1073.5 297.7L1074.5 301.7L1075.6 305.8L1076.6 309.8L1077.6 313.9L1078.6 317.9L1079.6 321.9L1080.6 326.0L1081.5 330.0L1082.5 334.1L1083.4 338.1L1084.3 342.2L1085.2 346.2L1086.1 350.3L1087.0 354.3L1087.9 358.4L1088.8 362.4L1089.7 366.5L1090.5 370.5L1091.4 374.6L1092.2 378.7L1093.0 382.7L1093.8 386.8L1094.6 390.8L1095.4 394.9L1096.2 399.0L1097.0 403.0L1097.8 407.1L1098.6 411.1L1099.3 415.2L1100.1 419.3L1100.8 423.3L1101.5 427.4L1102.3 431.5L1103.0 435.5L1103.7 439.6L1104.4 443.7L1105.1 447.7L1105.8 451.8L1106.5 455.9L1107.1 460.0L1107.8 464.0L1108.5 468.1L1109.1 472.2L1109.8 476.3L1110.4 480.3L1111.1 484.4L1111.7 488.5L1112.3 492.6L1113.0 496.6L1113.6 500.7L1114.2 504.8L1114.8 508.9L1115.4 513.0L1116.0 517.0L1116.6 521.1L1117.2 525.2L1117.8 529.3L1118.4 533.4L1119.0 537.5L1119.6 541.5L1120.2 545.6L1120.8 549.7L1121.4 553.8L1121.9 557.9L1122.5 562.0L1123.1 566.1L1123.6 570.1L1124.2 574.2L1124.8 578.3L1125.3 582.4L1125.9 586.5L1126.5 590.6L1127.0 594.7L1127.6 598.8L1128.1 602.9L1128.7 607.0L1129.3 611.1L1129.8 615.1L1130.4 619.2L1130.9 623.3L1131.5 627.4L1132.1 631.5L1132.6 635.6L1133.2 639.7L1133.7 643.8L1134.3 647.9L1134.8 652.0L1135.4 656.1L1136.0 660.2L1136.5 664.3L1137.1 668.4L1137.7 672.5L1138.2 676.6L1138.8 680.6L1139.4 684.7L1139.9 688.8L1140.5 692.9L1141.1 697.0L1141.7 701.1L1142.2 705.2L1142.8 709.3L1143.4 713.4L1144.0 717.5L1144.6 721.6L1145.2 725.7L1145.8 729.8L1146.4 733.9L1147.0 738.0L1147.6 742.0L1148.2 746.1L1148.8 750.2L1149.4 754.3L1150.0 758.4L1150.7 762.5L1151.3 766.6L1151.9 770.7L1152.6 774.8L1153.2 778.9L1153.9 782.9L1154.5 787.0L1155.2 791.1L1155.8 795.2L1156.5 799.3L1157.2 803.4L1157.8 807.5L1158.5 811.5L1159.2 815.6L1159.9 819.7L1160.6 823.8L1161.3 827.9L1162.0 831.9L1162.7 836.0L1163.5 840.1L1164.2 844.2L1164.9 848.2L1165.7 852.3L1166.4 856.4L1167.2 860.5L1168.0 864.5L1168.7 868.6L1169.5 872.7L1170.3 876.8L1171.1 880.8L1171.9 884.9L1172.7 889.0L1173.5 893.0L1174.3 897.1L1175.2 901.2L1176.0 905.2L1176.9 909.3L1177.7 913.3L1178.6 917.4L1179.5 921.4L1180.4 925.5L1181.3 929.6L1182.2 933.6L1183.1 937.7L1184.0 941.7L1184.9 945.8L1185.9 949.8L1186.8 953.9L1187.8 957.9L1188.8 962.0L1189.7 966.0L1190.7 970.0L1191.7 974.1L1192.8 978.1L1193.8 982.2L1194.8 986.2L1195.9 990.2L1196.9 994.3L1198.0 998.3L1199.1 1002.3L1200.2 1006.3L1201.3 1010.4L1202.4 1014.4L1203.5 1018.4L1204.6 1022.4L1205.8 1026.5L1207.0 1030.5L1208.1 1034.5L1209.3 1038.5L1210.5 1042.5L1211.8 1046.5L1213.1 1050.4L1214.5 1054.3L1216.1 1058.0L1217.7 1061.7L1219.5 1065.3L1221.5 1068.7L1223.7 1072.0L1226.1 1075.1L1228.7 1078.0L1231.6 1080.7L1234.7 1083.2L1238.2 1085.4L1242.0 1087.4L1246.0 1089.2L1250.2 1090.6L1254.4 1091.8L1258.8 1092.5L1263.1 1092.5L1267.2 1092.5L1271.2 1092.5L1275.0 1092.5L1722.0 1092.5"/>
</g>
<g shape-rendering="crispEdges">
<rect x="1159" y="66" width="121" height="9" fill="#ff0000"/>
<rect x="1159" y="158" width="121" height="10" fill="#00ff00"/>
<rect x="1160" y="252" width="119" height="7" fill="#0000ff"/>
<rect x="1161" y="345" width="117" height="6" fill="#000000"/>
<rect x="1159" y="436" width="121" height="9" fill="#8000ff"/>
</g>
<g font-family="'Liberation Serif', serif" font-weight="bold" font-size="62.5" fill="#000">
<text x="206" y="1110.8" text-anchor="end">0</text>
<text x="206" y="915.4" text-anchor="end">2</text>
<text x="206" y="720.0" text-anchor="end">4</text>
<text x="206" y="524.6" text-anchor="end">6</text>
<text x="206" y="329.2" text-anchor="end">8</text>
<text x="206" y="133.8" text-anchor="end">10</text>
<text x="189.6" y="1276" textLength="104.6" lengthAdjust="spacing">0.01</text>
<text x="693.2" y="1276" textLength="72.2" lengthAdjust="spacing">0.1</text>
<text x="1202.6" y="1276">1</text>
<text x="1676.0" y="1276">10</text>
</g>
<g font-family="'Liberation Serif', serif" font-weight="bold" font-size="72" fill="#000" style="font-kerning:none">
<text x="697.5" y="1395" textLength="366" lengthAdjust="spacing">Particle size</text>
<text x="1104" y="1395" textLength="150" lengthAdjust="spacing">(µm)</text>
<text transform="translate(72.5 762.5) rotate(-90)" textLength="242" lengthAdjust="spacing">Volume</text>
<text transform="translate(72.5 485) rotate(-90)" textLength="118" lengthAdjust="spacing">(%)</text>
</g>
<text font-family="'Liberation Serif', serif" font-weight="bold" font-size="62.5" fill="#ff0000" stroke="#ff0000" stroke-width="0" xml:space="preserve"><tspan x="1291.8" y="90.0" font-family="DejaVu Sans, sans-serif" font-weight="normal" font-size="48.5" stroke-width="0.6">[</tspan><tspan x="1309" y="88.0">TiO</tspan><tspan dy="12">2</tspan><tspan dy="-10.3" dx="-2.3" font-size="68">+</tspan><tspan dy="-1.7" dx="-0.7"> SSQ 1</tspan><tspan x="1662.2" y="90.0" font-family="DejaVu Sans, sans-serif" font-weight="normal" font-size="48.5" stroke-width="0.6">]</tspan></text>
<text font-family="'Liberation Serif', serif" font-weight="bold" font-size="62.5" fill="#00ff00" stroke="#00ff00" stroke-width="0" xml:space="preserve"><tspan x="1291.8" y="182.3" font-family="DejaVu Sans, sans-serif" font-weight="normal" font-size="48.5" stroke-width="0.6">[</tspan><tspan x="1309" y="180.3">TiO</tspan><tspan dy="12">2</tspan><tspan dy="-10.3" dx="-2.3" font-size="68">+</tspan><tspan dy="-1.7" dx="-0.7"> SSQ 2</tspan><tspan x="1662.2" y="182.3" font-family="DejaVu Sans, sans-serif" font-weight="normal" font-size="48.5" stroke-width="0.6">]</tspan></text>
<text font-family="'Liberation Serif', serif" font-weight="bold" font-size="62.5" fill="#0000ff" stroke="#0000ff" stroke-width="0" xml:space="preserve"><tspan x="1291.8" y="274.7" font-family="DejaVu Sans, sans-serif" font-weight="normal" font-size="48.5" stroke-width="0.6">[</tspan><tspan x="1309" y="272.7">TiO</tspan><tspan dy="12">2</tspan><tspan dy="-10.3" dx="-2.3" font-size="68">+</tspan><tspan dy="-1.7" dx="-0.7"> SSQ 3</tspan><tspan x="1662.2" y="274.7" font-family="DejaVu Sans, sans-serif" font-weight="normal" font-size="48.5" stroke-width="0.6">]</tspan></text>
<text font-family="'Liberation Serif', serif" font-weight="bold" font-size="62.5" fill="#000000" stroke="#000000" stroke-width="0" xml:space="preserve"><tspan x="1291.8" y="367.0" font-family="DejaVu Sans, sans-serif" font-weight="normal" font-size="48.5" stroke-width="0.6">[</tspan><tspan x="1309" y="365.0">TiO</tspan><tspan dy="12">2</tspan><tspan dy="-10.3" dx="-2.3" font-size="68">+</tspan><tspan dy="-1.7" dx="-0.7"> SSQ 4</tspan><tspan x="1662.2" y="367.0" font-family="DejaVu Sans, sans-serif" font-weight="normal" font-size="48.5" stroke-width="0.6">]</tspan></text>
<text font-family="'Liberation Serif', serif" font-weight="bold" font-size="62.5" fill="#8000ff" stroke="#8000ff" stroke-width="0" xml:space="preserve"><tspan x="1291.8" y="460.0" font-family="DejaVu Sans, sans-serif" font-weight="normal" font-size="48.5" stroke-width="0.6">[</tspan><tspan x="1309" y="458.0">TiO</tspan><tspan dy="12">2</tspan><tspan x="1443.5" y="460.0" font-family="DejaVu Sans, sans-serif" font-weight="normal" font-size="48.5" stroke-width="0.6">]</tspan></text>
</svg>
</body></html>
